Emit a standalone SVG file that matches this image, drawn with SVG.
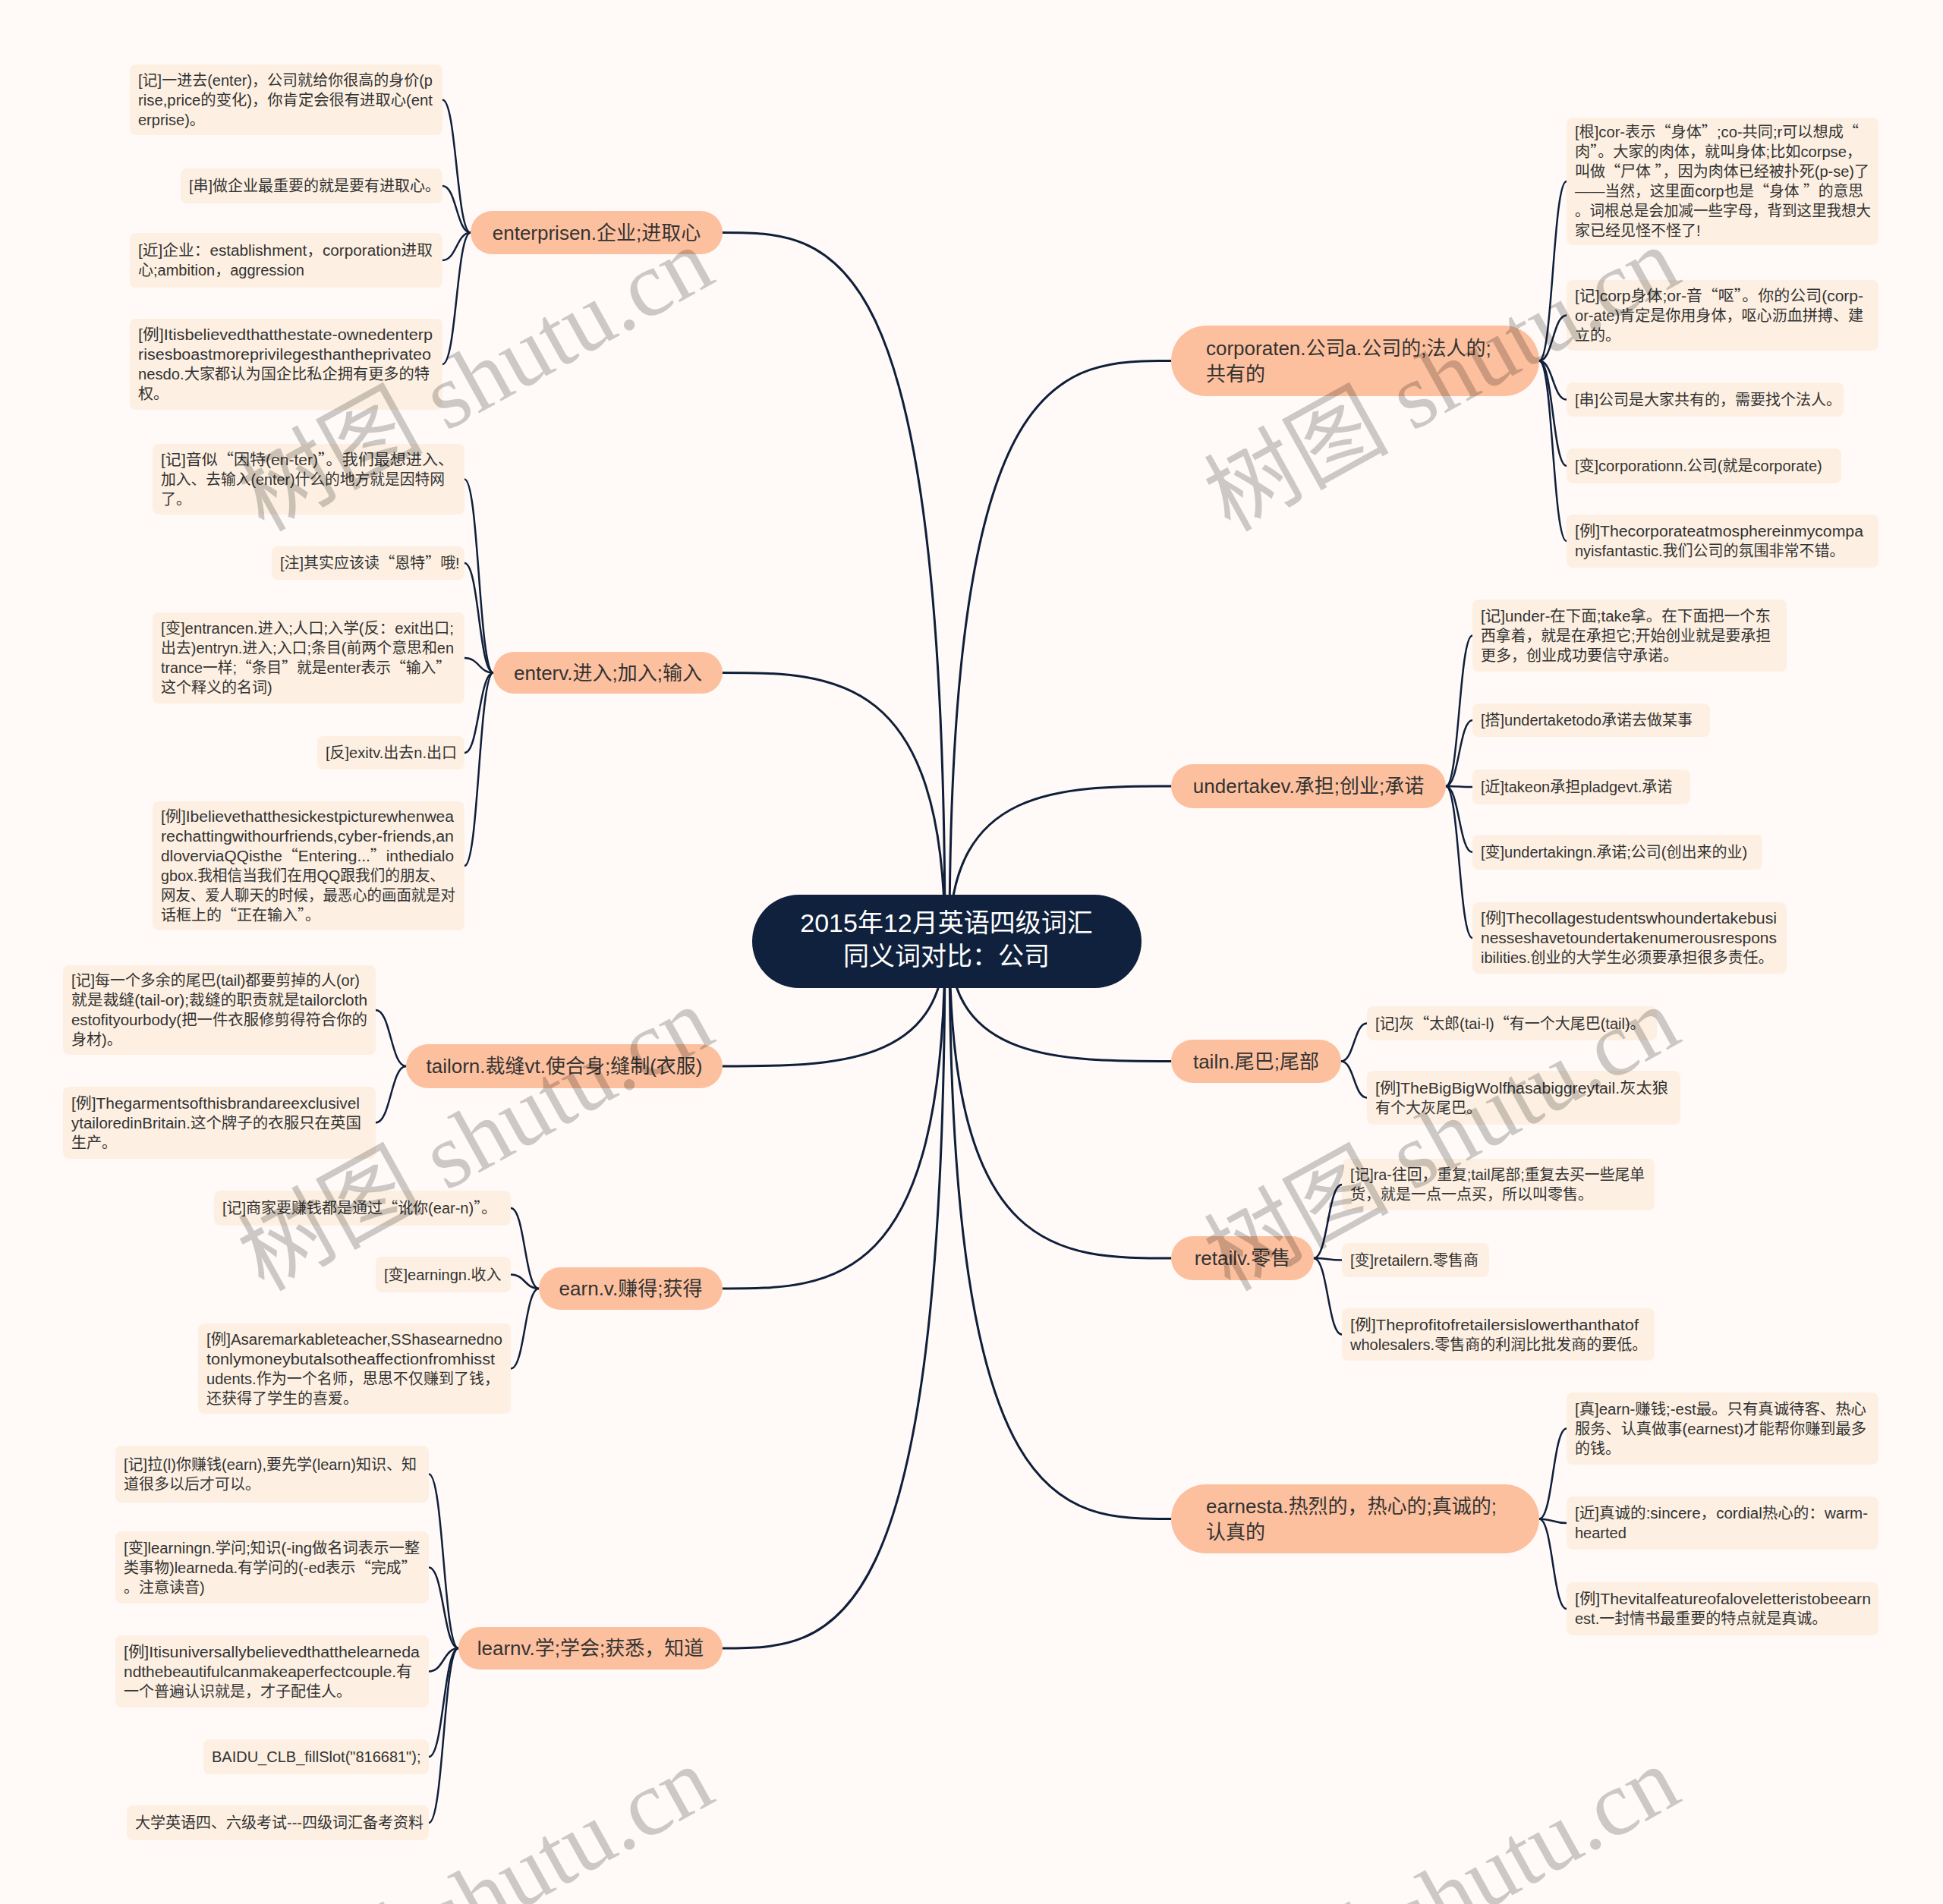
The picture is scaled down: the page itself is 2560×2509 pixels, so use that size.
<svg xmlns="http://www.w3.org/2000/svg" width="2560" height="2509" viewBox="0 0 2560 2509">
<style>
.bg{fill:#fffaf7}
.cn{fill:#10213d}
.mn{fill:#fdc09e}
.lf{fill:#fdf0e2}
.tc{font-family:"Liberation Sans","Noto Sans CJK SC",sans-serif;font-size:34px;fill:#ffffff;text-anchor:middle}
.tm{font-family:"Liberation Sans","Noto Sans CJK SC",sans-serif;font-size:26px;fill:#333333}
.tmc{text-anchor:middle}
.tl{font-family:"Liberation Sans","Noto Sans CJK SC",sans-serif;font-size:20px;fill:#333333}
.q{font-family:"Noto Sans CJK SC",sans-serif}
.ln{fill:none;stroke:#0f1f3a;stroke-width:3;stroke-linecap:round}
.sl{fill:none;stroke:#0f1f3a;stroke-width:2.5;stroke-linecap:round}
.wm{font-family:"Liberation Serif","Noto Sans CJK SC",serif;font-size:122px;fill:#000000;fill-opacity:0.2;text-anchor:end}
</style>
<rect class="bg" x="0" y="0" width="2560" height="2509"/>

<g id="connectors">
<path class="ln" d="M1245,1240 C1245,306.5 1098.5,306.5 952,306.5"/>
<path class="ln" d="M1245,1240 C1245,886.5 1098.5,886.5 952,886.5"/>
<path class="ln" d="M1245,1240 C1245,1405 1098.5,1405 952,1405"/>
<path class="ln" d="M1245,1240 C1245,1698 1098.5,1698 952,1698"/>
<path class="ln" d="M1245,1240 C1245,2172 1098.5,2172 952,2172"/>
<path class="ln" d="M1251,1240 C1251,475.5 1397,475.5 1543,475.5"/>
<path class="ln" d="M1251,1240 C1251,1036 1397,1036 1543,1036"/>
<path class="ln" d="M1251,1240 C1251,1398.5 1397,1398.5 1543,1398.5"/>
<path class="ln" d="M1251,1240 C1251,1658 1397,1658 1543,1658"/>
<path class="ln" d="M1251,1240 C1251,2001.5 1397,2001.5 1543,2001.5"/>

<path class="sl" d="M620,306.5 C601.5,306.5 601.5,131.5 583,131.5"/>
<path class="sl" d="M620,306.5 C601.5,306.5 601.5,245 583,245"/>
<path class="sl" d="M620,306.5 C601.5,306.5 601.5,343 583,343"/>
<path class="sl" d="M620,306.5 C601.5,306.5 601.5,480 583,480"/>

<path class="sl" d="M650,886.5 C631,886.5 631,631.5 612,631.5"/>
<path class="sl" d="M650,886.5 C631,886.5 631,742 612,742"/>
<path class="sl" d="M650,886.5 C631,886.5 631,867 612,867"/>
<path class="sl" d="M650,886.5 C631,886.5 631,992 612,992"/>
<path class="sl" d="M650,886.5 C631,886.5 631,1141 612,1141"/>

<path class="sl" d="M535,1405 C515,1405 515,1331 495,1331"/>
<path class="sl" d="M535,1405 C515,1405 515,1479.5 495,1479.5"/>

<path class="sl" d="M710,1698 C691.5,1698 691.5,1592 673,1592"/>
<path class="sl" d="M710,1698 C691.5,1698 691.5,1679.5 673,1679.5"/>
<path class="sl" d="M710,1698 C691.5,1698 691.5,1803.5 673,1803.5"/>

<path class="sl" d="M604,2172 C584.5,2172 584.5,1942.5 565,1942.5"/>
<path class="sl" d="M604,2172 C584.5,2172 584.5,2065.5 565,2065.5"/>
<path class="sl" d="M604,2172 C584.5,2172 584.5,2202.5 565,2202.5"/>
<path class="sl" d="M604,2172 C584.5,2172 584.5,2315 565,2315"/>
<path class="sl" d="M604,2172 C584.5,2172 584.5,2402 565,2402"/>

<path class="sl" d="M2028,475.5 C2046,475.5 2046,239 2064,239"/>
<path class="sl" d="M2028,475.5 C2046,475.5 2046,415.5 2064,415.5"/>
<path class="sl" d="M2028,475.5 C2046,475.5 2046,526.5 2064,526.5"/>
<path class="sl" d="M2028,475.5 C2046,475.5 2046,614 2064,614"/>
<path class="sl" d="M2028,475.5 C2046,475.5 2046,713 2064,713"/>

<path class="sl" d="M1905,1036 C1922.5,1036 1922.5,837.5 1940,837.5"/>
<path class="sl" d="M1905,1036 C1922.5,1036 1922.5,949 1940,949"/>
<path class="sl" d="M1905,1036 C1922.5,1036 1922.5,1037 1940,1037"/>
<path class="sl" d="M1905,1036 C1922.5,1036 1922.5,1123 1940,1123"/>
<path class="sl" d="M1905,1036 C1922.5,1036 1922.5,1236 1940,1236"/>

<path class="sl" d="M1767,1398.5 C1784,1398.5 1784,1348.5 1801,1348.5"/>
<path class="sl" d="M1767,1398.5 C1784,1398.5 1784,1446.5 1801,1446.5"/>

<path class="sl" d="M1731,1658 C1749.5,1658 1749.5,1561 1768,1561"/>
<path class="sl" d="M1731,1658 C1749.5,1658 1749.5,1660.5 1768,1660.5"/>
<path class="sl" d="M1731,1658 C1749.5,1658 1749.5,1758.5 1768,1758.5"/>

<path class="sl" d="M2028,2001.5 C2046,2001.5 2046,1882.5 2064,1882.5"/>
<path class="sl" d="M2028,2001.5 C2046,2001.5 2046,2007 2064,2007"/>
<path class="sl" d="M2028,2001.5 C2046,2001.5 2046,2120 2064,2120"/>
</g>

<g id="center">
<rect class="cn" x="991" y="1179" width="513" height="123" rx="61.5"/>
<text class="tc"><tspan x="1247" y="1228">2015年12月英语四级词汇</tspan><tspan x="1247" y="1272">同义词对比：公司</tspan></text>
</g>

<g id="n-enterprise">
<rect class="mn" x="620" y="278" width="332" height="57" rx="28.5"/>
<text class="tm tmc" x="786" y="316">enterprisen.企业;进取心</text>
</g>
<g id="n-enter">
<rect class="mn" x="650" y="859" width="302" height="55" rx="27.5"/>
<text class="tm tmc" x="801" y="896">enterv.进入;加入;输入</text>
</g>
<g id="n-tailor">
<rect class="mn" x="535" y="1376" width="417" height="58" rx="29"/>
<text class="tm tmc" x="743.5" y="1414">tailorn.裁缝vt.使合身;缝制(衣服)</text>
</g>
<g id="n-earn">
<rect class="mn" x="710" y="1670" width="242" height="56" rx="28"/>
<text class="tm tmc" x="831" y="1707">earn.v.赚得;获得</text>
</g>
<g id="n-learn">
<rect class="mn" x="604" y="2144" width="348" height="56" rx="28"/>
<text class="tm tmc" x="778" y="2181">learnv.学;学会;获悉，知道</text>
</g>
<g id="n-corporate">
<rect class="mn" x="1543" y="429" width="485" height="93" rx="46.5"/>
<text class="tm"><tspan x="1589" y="468">corporaten.公司a.公司的;法人的;</tspan><tspan x="1589" y="502">共有的</tspan></text>
</g>
<g id="n-undertake">
<rect class="mn" x="1543" y="1007" width="362" height="58" rx="29"/>
<text class="tm tmc" x="1724" y="1045">undertakev.承担;创业;承诺</text>
</g>
<g id="n-tail">
<rect class="mn" x="1543" y="1370" width="224" height="57" rx="28.5"/>
<text class="tm tmc" x="1655" y="1408">tailn.尾巴;尾部</text>
</g>
<g id="n-retail">
<rect class="mn" x="1543" y="1629" width="188" height="58" rx="29"/>
<text class="tm tmc" x="1637" y="1667">retailv.零售</text>
</g>
<g id="n-earnest">
<rect class="mn" x="1543" y="1956" width="485" height="91" rx="45.5"/>
<text class="tm"><tspan x="1589" y="1993.5">earnesta.热烈的，热心的;真诚的;</tspan><tspan x="1589" y="2027.5">认真的</tspan></text>
</g>

<g id="leaf-e1"><rect class="lf" x="171" y="85" width="412" height="93" rx="8"/>
<text class="tl"><tspan x="182" y="112.5" textLength="388" lengthAdjust="spacingAndGlyphs">[记]一进去(enter)，公司就给你很高的身价(p</tspan><tspan x="182" y="138.5" textLength="388" lengthAdjust="spacingAndGlyphs">rise,price的变化)，你肯定会很有进取心(ent</tspan><tspan x="182" y="164.5">erprise)。</tspan></text></g>
<g id="leaf-e2"><rect class="lf" x="238" y="222" width="345" height="46" rx="8"/>
<text class="tl" x="249" y="252">[串]做企业最重要的就是要有进取心。</text></g>
<g id="leaf-e3"><rect class="lf" x="171" y="307" width="412" height="72" rx="8"/>
<text class="tl"><tspan x="182" y="337" textLength="388" lengthAdjust="spacingAndGlyphs">[近]企业：establishment，corporation进取</tspan><tspan x="182" y="363">心;ambition，aggression</tspan></text></g>
<g id="leaf-e4"><rect class="lf" x="171" y="420" width="412" height="120" rx="8"/>
<text class="tl"><tspan x="182" y="448" textLength="388" lengthAdjust="spacingAndGlyphs">[例]Itisbelievedthatthestate-ownedenterp</tspan><tspan x="182" y="474" textLength="386" lengthAdjust="spacingAndGlyphs">risesboastmoreprivilegesthantheprivateo</tspan><tspan x="182" y="500" textLength="384" lengthAdjust="spacingAndGlyphs">nesdo.大家都认为国企比私企拥有更多的特</tspan><tspan x="182" y="526">权。</tspan></text></g>

<g id="leaf-n1"><rect class="lf" x="201" y="585" width="411" height="93" rx="8"/>
<text class="tl"><tspan x="212" y="612.5" textLength="386" lengthAdjust="spacingAndGlyphs">[记]音似<tspan class="q">“</tspan>因特(en-ter)<tspan class="q">”</tspan>。我们最想进入、</tspan><tspan x="212" y="638.5" textLength="374" lengthAdjust="spacingAndGlyphs">加入、去输入(enter)什么的地方就是因特网</tspan><tspan x="212" y="664.5">了。</tspan></text></g>
<g id="leaf-n2"><rect class="lf" x="358" y="720" width="254" height="44" rx="8"/>
<text class="tl" x="369" y="749">[注]其实应该读<tspan class="q">“</tspan>恩特<tspan class="q">”</tspan>哦!</text></g>
<g id="leaf-n3"><rect class="lf" x="201" y="807" width="411" height="120" rx="8"/>
<text class="tl"><tspan x="212" y="835" textLength="386" lengthAdjust="spacingAndGlyphs">[变]entrancen.进入;人口;入学(反：exit出口;</tspan><tspan x="212" y="861" textLength="386" lengthAdjust="spacingAndGlyphs">出去)entryn.进入;入口;条目(前两个意思和en</tspan><tspan x="212" y="887" textLength="382" lengthAdjust="spacingAndGlyphs">trance一样;<tspan class="q">“</tspan>条目<tspan class="q">”</tspan>就是enter表示<tspan class="q">“</tspan>输入<tspan class="q">”</tspan></tspan><tspan x="212" y="913">这个释义的名词)</tspan></text></g>
<g id="leaf-n4"><rect class="lf" x="418" y="970" width="194" height="44" rx="8"/>
<text class="tl" x="429" y="999">[反]exitv.出去n.出口</text></g>
<g id="leaf-n5"><rect class="lf" x="201" y="1056" width="411" height="170" rx="8"/>
<text class="tl"><tspan x="212" y="1083" textLength="386" lengthAdjust="spacingAndGlyphs">[例]Ibelievethatthesickestpicturewhenwea</tspan><tspan x="212" y="1109" textLength="386" lengthAdjust="spacingAndGlyphs">rechattingwithourfriends,cyber-friends,an</tspan><tspan x="212" y="1135" textLength="386" lengthAdjust="spacingAndGlyphs">dloverviaQQisthe<tspan class="q">“</tspan>Entering...<tspan class="q">”</tspan>inthedialo</tspan><tspan x="212" y="1161" textLength="374" lengthAdjust="spacingAndGlyphs">gbox.我相信当我们在用QQ跟我们的朋友、</tspan><tspan x="212" y="1187" textLength="388" lengthAdjust="spacingAndGlyphs">网友、爱人聊天的时候，最恶心的画面就是对</tspan><tspan x="212" y="1213">话框上的<tspan class="q">“</tspan>正在输入<tspan class="q">”</tspan>。</tspan></text></g>

<g id="leaf-t1"><rect class="lf" x="83" y="1272" width="412" height="118" rx="8"/>
<text class="tl"><tspan x="94" y="1299" textLength="380" lengthAdjust="spacingAndGlyphs">[记]每一个多余的尾巴(tail)都要剪掉的人(or)</tspan><tspan x="94" y="1325" textLength="390" lengthAdjust="spacingAndGlyphs">就是裁缝(tail-or);裁缝的职责就是tailorcloth</tspan><tspan x="94" y="1351" textLength="390" lengthAdjust="spacingAndGlyphs">estofityourbody(把一件衣服修剪得符合你的</tspan><tspan x="94" y="1377">身材)。</tspan></text></g>
<g id="leaf-t2"><rect class="lf" x="83" y="1432" width="412" height="95" rx="8"/>
<text class="tl"><tspan x="94" y="1460.5" textLength="380" lengthAdjust="spacingAndGlyphs">[例]Thegarmentsofthisbrandareexclusivel</tspan><tspan x="94" y="1486.5" textLength="382" lengthAdjust="spacingAndGlyphs">ytailoredinBritain.这个牌子的衣服只在英国</tspan><tspan x="94" y="1512.5">生产。</tspan></text></g>

<g id="leaf-r1"><rect class="lf" x="282" y="1569" width="391" height="46" rx="8"/>
<text class="tl" x="293" y="1599">[记]商家要赚钱都是通过<tspan class="q">“</tspan>讹你(ear-n)<tspan class="q">”</tspan>。</text></g>
<g id="leaf-r2"><rect class="lf" x="495" y="1656" width="178" height="47" rx="8"/>
<text class="tl" x="506" y="1686.5">[变]earningn.收入</text></g>
<g id="leaf-r3"><rect class="lf" x="261" y="1744" width="412" height="119" rx="8"/>
<text class="tl"><tspan x="272" y="1771.5" textLength="390" lengthAdjust="spacingAndGlyphs">[例]Asaremarkableteacher,SShasearnedno</tspan><tspan x="272" y="1797.5" textLength="380" lengthAdjust="spacingAndGlyphs">tonlymoneybutalsotheaffectionfromhisst</tspan><tspan x="272" y="1823.5" textLength="386" lengthAdjust="spacingAndGlyphs">udents.作为一个名师，思思不仅赚到了钱，</tspan><tspan x="272" y="1849.5">还获得了学生的喜爱。</tspan></text></g>

<g id="leaf-l1"><rect class="lf" x="152" y="1905" width="413" height="75" rx="8"/>
<text class="tl"><tspan x="163" y="1936.5" textLength="386" lengthAdjust="spacingAndGlyphs">[记]拉(l)你赚钱(earn),要先学(learn)知识、知</tspan><tspan x="163" y="1962.5">道很多以后才可以。</tspan></text></g>
<g id="leaf-l2"><rect class="lf" x="152" y="2018" width="413" height="95" rx="8"/>
<text class="tl"><tspan x="163" y="2046.5" textLength="390" lengthAdjust="spacingAndGlyphs">[变]learningn.学问;知识(-ing做名词表示一整</tspan><tspan x="163" y="2072.5">类事物)learneda.有学问的(-ed表示<tspan class="q">“</tspan>完成<tspan class="q">”</tspan></tspan><tspan x="163" y="2098.5">。注意读音)</tspan></text></g>
<g id="leaf-l3"><rect class="lf" x="152" y="2155" width="413" height="95" rx="8"/>
<text class="tl"><tspan x="163" y="2183.5" textLength="390" lengthAdjust="spacingAndGlyphs">[例]Itisuniversallybelievedthatthelearneda</tspan><tspan x="163" y="2209.5" textLength="380" lengthAdjust="spacingAndGlyphs">ndthebeautifulcanmakeaperfectcouple.有</tspan><tspan x="163" y="2235.5">一个普遍认识就是，才子配佳人。</tspan></text></g>
<g id="leaf-l4"><rect class="lf" x="268" y="2292" width="297" height="46" rx="8"/>
<text class="tl" x="279" y="2322">BAIDU_CLB_fillSlot("816681");</text></g>
<g id="leaf-l5"><rect class="lf" x="167" y="2379" width="398" height="46" rx="8"/>
<text class="tl" x="178" y="2409">大学英语四、六级考试---四级词汇备考资料</text></g>

<g id="leaf-c1"><rect class="lf" x="2064" y="155" width="411" height="168" rx="8"/>
<text class="tl"><tspan x="2075" y="181" textLength="374" lengthAdjust="spacingAndGlyphs">[根]cor-表示<tspan class="q">“</tspan>身体<tspan class="q">”</tspan>;co-共同;r可以想成<tspan class="q">“</tspan></tspan><tspan x="2075" y="207" textLength="378" lengthAdjust="spacingAndGlyphs">肉<tspan class="q">”</tspan>。大家的肉体，就叫身体;比如corpse，</tspan><tspan x="2075" y="233" textLength="388" lengthAdjust="spacingAndGlyphs">叫做<tspan class="q">“</tspan>尸体 <tspan class="q">”</tspan>，因为肉体已经被扑死(p-se)了</tspan><tspan x="2075" y="259" textLength="380" lengthAdjust="spacingAndGlyphs">——当然，这里面corp也是<tspan class="q">“</tspan>身体 <tspan class="q">”</tspan>的意思</tspan><tspan x="2075" y="285" textLength="390" lengthAdjust="spacingAndGlyphs">。词根总是会加减一些字母，背到这里我想大</tspan><tspan x="2075" y="311">家已经见怪不怪了!</tspan></text></g>
<g id="leaf-c2"><rect class="lf" x="2064" y="369" width="411" height="93" rx="8"/>
<text class="tl"><tspan x="2075" y="396.5" textLength="380" lengthAdjust="spacingAndGlyphs">[记]corp身体;or-音<tspan class="q">“</tspan>呕<tspan class="q">”</tspan>。你的公司(corp-</tspan><tspan x="2075" y="422.5" textLength="380" lengthAdjust="spacingAndGlyphs">or-ate)肯定是你用身体，呕心沥血拼搏、建</tspan><tspan x="2075" y="448.5">立的。</tspan></text></g>
<g id="leaf-c3"><rect class="lf" x="2064" y="504" width="365" height="45" rx="8"/>
<text class="tl" x="2075" y="533.5">[串]公司是大家共有的，需要找个法人。</text></g>
<g id="leaf-c4"><rect class="lf" x="2064" y="591" width="362" height="46" rx="8"/>
<text class="tl" x="2075" y="621">[变]corporationn.公司(就是corporate)</text></g>
<g id="leaf-c5"><rect class="lf" x="2064" y="678" width="411" height="70" rx="8"/>
<text class="tl"><tspan x="2075" y="707" textLength="380" lengthAdjust="spacingAndGlyphs">[例]Thecorporateatmosphereinmycompa</tspan><tspan x="2075" y="733">nyisfantastic.我们公司的氛围非常不错。</tspan></text></g>

<g id="leaf-u1"><rect class="lf" x="1940" y="790" width="414" height="95" rx="8"/>
<text class="tl"><tspan x="1951" y="818.5" textLength="382" lengthAdjust="spacingAndGlyphs">[记]under-在下面;take拿。在下面把一个东</tspan><tspan x="1951" y="844.5" textLength="382" lengthAdjust="spacingAndGlyphs">西拿着，就是在承担它;开始创业就是要承担</tspan><tspan x="1951" y="870.5">更多，创业成功要信守承诺。</tspan></text></g>
<g id="leaf-u2"><rect class="lf" x="1940" y="927" width="313" height="44" rx="8"/>
<text class="tl" x="1951" y="956">[搭]undertaketodo承诺去做某事</text></g>
<g id="leaf-u3"><rect class="lf" x="1940" y="1014" width="287" height="46" rx="8"/>
<text class="tl" x="1951" y="1044">[近]takeon承担pladgevt.承诺</text></g>
<g id="leaf-u4"><rect class="lf" x="1940" y="1100" width="382" height="46" rx="8"/>
<text class="tl" x="1951" y="1130">[变]undertakingn.承诺;公司(创出来的业)</text></g>
<g id="leaf-u5"><rect class="lf" x="1940" y="1189" width="414" height="94" rx="8"/>
<text class="tl"><tspan x="1951" y="1217" textLength="390" lengthAdjust="spacingAndGlyphs">[例]Thecollagestudentswhoundertakebusi</tspan><tspan x="1951" y="1243" textLength="390" lengthAdjust="spacingAndGlyphs">nesseshavetoundertakenumerousrespons</tspan><tspan x="1951" y="1269">ibilities.创业的大学生必须要承担很多责任。</tspan></text></g>

<g id="leaf-tl1"><rect class="lf" x="1801" y="1326" width="382" height="45" rx="8"/>
<text class="tl" x="1812" y="1355.5">[记]灰<tspan class="q">“</tspan>太郎(tai-l)<tspan class="q">“</tspan>有一个大尾巴(tail)。</text></g>
<g id="leaf-tl2"><rect class="lf" x="1801" y="1411" width="413" height="71" rx="8"/>
<text class="tl"><tspan x="1812" y="1440.5" textLength="386" lengthAdjust="spacingAndGlyphs">[例]TheBigBigWolfhasabiggreytail.灰太狼</tspan><tspan x="1812" y="1466.5">有个大灰尾巴。</tspan></text></g>

<g id="leaf-rt1"><rect class="lf" x="1768" y="1527" width="412" height="68" rx="8"/>
<text class="tl"><tspan x="1779" y="1555" textLength="388" lengthAdjust="spacingAndGlyphs">[记]ra-往回，重复;tail尾部;重复去买一些尾单</tspan><tspan x="1779" y="1581">货，就是一点一点买，所以叫零售。</tspan></text></g>
<g id="leaf-rt2"><rect class="lf" x="1768" y="1638" width="194" height="45" rx="8"/>
<text class="tl" x="1779" y="1667.5">[变]retailern.零售商</text></g>
<g id="leaf-rt3"><rect class="lf" x="1768" y="1724" width="412" height="69" rx="8"/>
<text class="tl"><tspan x="1779" y="1752.5" textLength="380" lengthAdjust="spacingAndGlyphs">[例]Theprofitofretailersislowerthanthatof</tspan><tspan x="1779" y="1778.5">wholesalers.零售商的利润比批发商的要低。</tspan></text></g>

<g id="leaf-es1"><rect class="lf" x="2064" y="1835" width="411" height="95" rx="8"/>
<text class="tl"><tspan x="2075" y="1863.5" textLength="384" lengthAdjust="spacingAndGlyphs">[真]earn-赚钱;-est最。只有真诚待客、热心</tspan><tspan x="2075" y="1889.5" textLength="384" lengthAdjust="spacingAndGlyphs">服务、认真做事(earnest)才能帮你赚到最多</tspan><tspan x="2075" y="1915.5">的钱。</tspan></text></g>
<g id="leaf-es2"><rect class="lf" x="2064" y="1972" width="411" height="70" rx="8"/>
<text class="tl"><tspan x="2075" y="2001" textLength="386" lengthAdjust="spacingAndGlyphs">[近]真诚的:sincere，cordial热心的：warm-</tspan><tspan x="2075" y="2027">hearted</tspan></text></g>
<g id="leaf-es3"><rect class="lf" x="2064" y="2085" width="411" height="70" rx="8"/>
<text class="tl"><tspan x="2075" y="2114" textLength="390" lengthAdjust="spacingAndGlyphs">[例]Thevitalfeatureofaloveletteristobeearn</tspan><tspan x="2075" y="2140">est.一封情书最重要的特点就是真诚。</tspan></text></g>

<g id="watermarks">
<text class="wm" transform="translate(946,370) rotate(-29)">树图 shutu.cn</text>
<text class="wm" transform="translate(2219,370) rotate(-29)">树图 shutu.cn</text>
<text class="wm" transform="translate(946,1371) rotate(-29)">树图 shutu.cn</text>
<text class="wm" transform="translate(2219,1371) rotate(-29)">树图 shutu.cn</text>
<text class="wm" transform="translate(946,2372) rotate(-29)">树图 shutu.cn</text>
<text class="wm" transform="translate(2219,2372) rotate(-29)">树图 shutu.cn</text>
</g>
</svg>
